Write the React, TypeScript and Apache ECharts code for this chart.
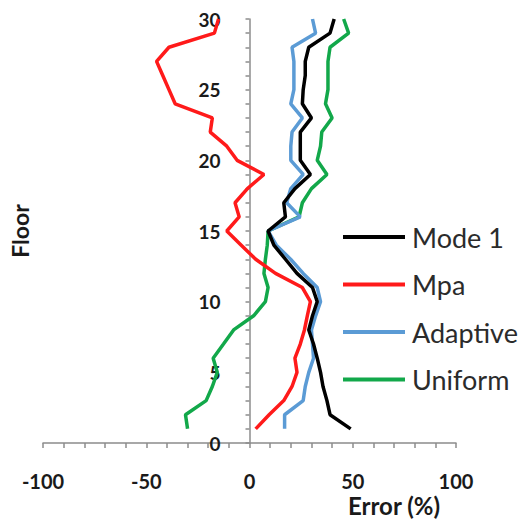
import React, { useEffect, useRef } from "react";
import * as echarts from "echarts";

// Floor numbers (y) and the error of each method at that floor (x, in %)
const floors = [1, 2, 3, 4, 5, 6, 7, 8, 9, 10, 11, 12, 13, 14, 15, 16, 17, 18, 19, 20, 21, 22, 23, 24, 25, 26, 27, 28, 29, 30];
const mode1 = [49, 39, 37.5, 35.6, 34.4, 32.8, 31, 28.7, 30.5, 32.8, 30.5, 23, 17.4, 11.8, 9, 17.4, 16.6, 22, 29.5, 24.6, 24.6, 24.6, 30, 25.6, 26, 27, 27, 28.7, 39, 41];
const mpa = [3, 9.5, 16.6, 20.6, 23, 22, 24.6, 26.6, 28, 29.5, 25.6, 12.6, 3, -4, -11, -5, -7, -1, 7, -6, -11, -19, -18, -36, -39, -42, -45, -39, -17, -15];
const adaptive = [17, 17, 26, 27, 28.7, 31, 30.5, 30, 32, 34.4, 32.8, 26, 19.9, 13, 9, 24.6, 18, 20, 26, 20, 20, 20.6, 25.6, 20, 21.5, 21.5, 21.5, 20.6, 32, 30.5];
const uniform = [-30, -31, -21, -18, -15.6, -17.6, -12.6, -7.7, 2, 7.7, 9, 7, 7.7, 8.6, 9, 24, 25.6, 30, 37.5, 32.8, 34.4, 35, 40, 36.8, 38, 38, 38, 39, 48, 45.6];

const seriesNames = ["Mode 1", "Mpa", "Adaptive", "Uniform"];
const seriesValues = [mode1, mpa, adaptive, uniform];
const seriesColors = ["#000000", "#ff1a1a", "#5b9bd5", "#12a84a"];
const seriesZ = [5, 4, 3, 2];

const FONT = "Lato, 'Open Sans', sans-serif";
const AXIS_GRAY = "#8c8c8c";

export default function App() {
  const ref = useRef<HTMLDivElement>(null);

  useEffect(() => {
    if (!ref.current) return;
    const chart = echarts.init(ref.current, undefined, { renderer: "svg" });

    const series = seriesNames.map((name, i) => ({
      name,
      type: "line",
      data: floors.map((f, k) => [seriesValues[i][k], f]),
      symbol: "none",
      z: seriesZ[i],
      lineStyle: { color: seriesColors[i], width: 3.5 },
      itemStyle: { color: seriesColors[i] },
    }));

    // plot area: x from -100 (px 43) to 100 (px 456); the floor axis sits at error = 0
    const gridLeft = 43;
    const gridRight = 73;
    const plotWidth = 529 - gridLeft - gridRight;

    chart.setOption({
      animation: false,
      backgroundColor: "#ffffff",
      grid: { left: gridLeft, right: gridRight, top: 19, bottom: 77 },
      xAxis: {
        type: "value",
        min: -100,
        max: 100,
        interval: 50,
        splitLine: { show: false },
        axisLine: { onZero: false, lineStyle: { color: AXIS_GRAY, width: 1.5 } },
        axisTick: { show: true, length: 5, lineStyle: { color: AXIS_GRAY, width: 1.5 } },
        minorTick: { show: true, splitNumber: 5, length: 5, lineStyle: { color: AXIS_GRAY, width: 1.5 } },
        axisLabel: { margin: 28, fontSize: 20, fontWeight: "bold", fontFamily: FONT, color: "#1a1a1a" },
      },
      yAxis: {
        type: "value",
        min: 0,
        max: 30,
        interval: 5,
        position: "left",
        offset: -plotWidth / 2,
        splitLine: { show: false },
        axisLine: { onZero: false, lineStyle: { color: AXIS_GRAY, width: 1.5 } },
        axisTick: { show: true, length: 4, lineStyle: { color: AXIS_GRAY, width: 1.5 } },
        minorTick: { show: true, splitNumber: 5, length: 4, lineStyle: { color: AXIS_GRAY, width: 1.5 } },
        axisLabel: { margin: 29, fontSize: 19, fontWeight: "bold", fontFamily: FONT, color: "#1a1a1a" },
      },
      legend: {
        orient: "vertical",
        left: 338,
        top: 218,
        icon: "rect",
        itemWidth: 62,
        itemHeight: 4,
        itemGap: 19.5,
        data: seriesNames,
        textStyle: { fontSize: 27, fontFamily: FONT, color: "#2b2b2b", lineHeight: 28, padding: [0, 0, 0, 2] },
      },
      graphic: [
        {
          type: "text",
          x: 394,
          y: 505,
          style: {
            text: "Error (%)",
            font: `bold 24px ${FONT}`,
            fill: "#1a1a1a",
            textAlign: "center",
            textVerticalAlign: "middle",
          },
        },
        {
          type: "text",
          x: 20,
          y: 231,
          rotation: Math.PI / 2,
          style: {
            text: "Floor",
            font: `bold 23px ${FONT}`,
            fill: "#1a1a1a",
            textAlign: "center",
            textVerticalAlign: "middle",
          },
        },
      ],
      series,
    });

    return () => chart.dispose();
  }, []);

  return <div ref={ref} style={{ position: "absolute", left: 0, top: 0, width: 529, height: 520 }} />;
}
